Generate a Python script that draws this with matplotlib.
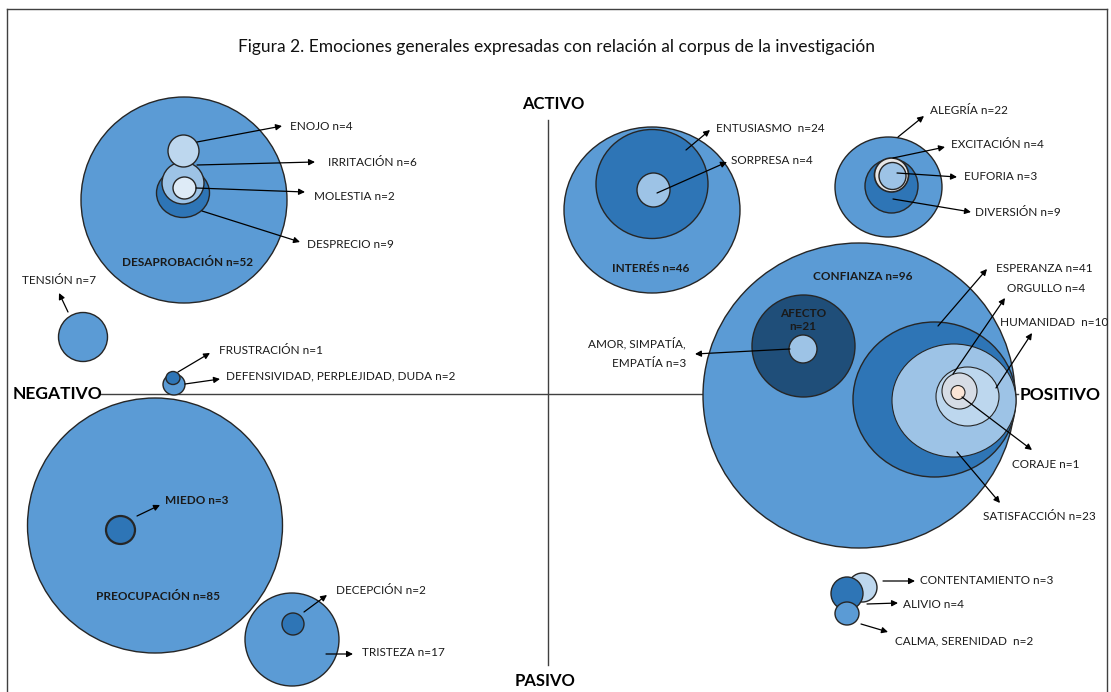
import matplotlib
matplotlib.use("Agg")
import matplotlib.pyplot as plt
from matplotlib.patches import Ellipse
from matplotlib.lines import Line2D

# ---------------- data ----------------
title = "Figura 2. Emociones generales expresadas con relación al corpus de la investigación"
axis_labels = ["ACTIVO", "PASIVO", "NEGATIVO", "POSITIVO"]

emotions = ["DESAPROBACIÓN", "ENOJO", "IRRITACIÓN", "DESPRECIO", "MOLESTIA",
            "TENSIÓN", "FRUSTRACIÓN", "DEFENSIVIDAD, PERPLEJIDAD, DUDA",
            "PREOCUPACIÓN", "MIEDO", "TRISTEZA", "DECEPCIÓN",
            "INTERÉS", "ENTUSIASMO", "SORPRESA",
            "ALEGRÍA", "DIVERSIÓN", "EXCITACIÓN", "EUFORIA",
            "CONFIANZA", "AFECTO", "AMOR, SIMPATÍA,\nEMPATÍA",
            "ESPERANZA", "SATISFACCIÓN", "HUMANIDAD", "ORGULLO", "CORAJE",
            "CONTENTAMIENTO", "ALIVIO", "CALMA, SERENIDAD"]
counts = [52, 4, 6, 9, 2,
          7, 1, 2,
          85, 3, 17, 2,
          46, 24, 4,
          22, 9, 4, 3,
          96, 21, 3,
          41, 23, 10, 4, 1,
          3, 4, 2]

# ---------------- layout (pixel coords) ----------------
# center x, center y, width, height, face colour, edge lw  (drawing order)
C1, C2, C3, C4, C5 = "#5b9bd5", "#2e75b6", "#9dc3e6", "#bdd7ee", "#deebf7"
shapes = {
    "DESAPROBACIÓN": (184, 200, 206, 206, C1, 1.0),
    "DESPRECIO": (183, 193, 53, 49, C2, 1.0),
    "IRRITACIÓN": (183, 183, 42, 42, C3, 1.0),
    "ENOJO": (183.5, 151, 31, 32, C4, 1.0),
    "MOLESTIA": (184.5, 188, 23, 22, C5, 1.0),
    "TENSIÓN": (83, 337, 49, 49, C1, 1.0),
    "DEFENSIVIDAD, PERPLEJIDAD, DUDA": (174, 384.5, 22, 21, C1, 1.0),
    "FRUSTRACIÓN": (173, 378, 14, 13, C2, 1.0),
    "PREOCUPACIÓN": (155, 525.5, 255, 255, C1, 1.0),
    "MIEDO": (120.5, 530, 29, 28, C2, 1.6),
    "TRISTEZA": (292, 639.5, 94, 93, C1, 1.0),
    "DECEPCIÓN": (293, 624, 22, 22, C2, 1.0),
    "INTERÉS": (652, 210, 176, 166, C1, 1.0),
    "ENTUSIASMO": (652, 184, 112, 109, C2, 1.0),
    "SORPRESA": (653.5, 190, 33, 34, C3, 1.0),
    "ALEGRÍA": (888.5, 187, 107, 100, C1, 1.0),
    "DIVERSIÓN": (891.5, 186, 53, 54, C2, 1.0),
    "EXCITACIÓN": (891.5, 175, 34, 34, "#e7e6e6", 1.2),
    "EUFORIA": (892.5, 176, 27, 27, C3, 1.0),
    "CONFIANZA": (859, 395.5, 312, 305, C1, 1.0),
    "AFECTO": (803.5, 346, 103, 102, "#1f4e79", 1.0),
    "AMOR, SIMPATÍA,\nEMPATÍA": (803, 349, 28, 28, C3, 1.0),
    "ESPERANZA": (934.5, 399.5, 163, 155, C2, 1.0),
    "SATISFACCIÓN": (954, 400.5, 124, 113, C3, 0.8),
    "HUMANIDAD": (967.5, 396.5, 63, 59, C4, 0.8),
    "ORGULLO": (959.5, 391, 35, 36, "#d6dce5", 0.8),
    "CORAJE": (958, 392.5, 14, 14, "#fbe5d6", 0.8),
    "CONTENTAMIENTO": (862.5, 587.5, 29, 29, C4, 1.0),
    "ALIVIO": (847, 593.5, 32, 33, C2, 1.0),
    "CALMA, SERENIDAD": (847, 613.5, 24, 23, C1, 1.0),
}

# arrows (tail x, tail y, head x, head y) and label anchors (x, y, ha, bold)
arrows = {
    "ENOJO": (197, 142, 282, 126), "IRRITACIÓN": (197, 165, 315, 162),
    "MOLESTIA": (196, 188, 305, 192), "DESPRECIO": (202, 211, 300, 242),
    "TENSIÓN": (68, 312, 59, 293), "FRUSTRACIÓN": (178, 372, 210, 353),
    "DEFENSIVIDAD, PERPLEJIDAD, DUDA": (185, 384, 220, 379),
    "MIEDO": (137, 516, 160, 505), "DECEPCIÓN": (304, 612, 327, 595),
    "TRISTEZA": (326, 654, 353, 654),
    "ENTUSIASMO": (686, 150, 710, 130), "SORPRESA": (657, 193, 727, 162),
    "ALEGRÍA": (898, 137, 924, 116), "EXCITACIÓN": (893, 158, 945, 147),
    "EUFORIA": (897, 173, 957, 177), "DIVERSIÓN": (893, 199, 971, 212),
    "AMOR, SIMPATÍA,\nEMPATÍA": (790, 349, 695, 354),
    "ESPERANZA": (938, 326, 987, 269), "ORGULLO": (953, 374, 1005, 298),
    "HUMANIDAD": (996, 388, 1032, 333), "CORAJE": (962, 397, 1032, 450),
    "SATISFACCIÓN": (957, 452, 1000, 503),
    "CONTENTAMIENTO": (883, 581, 915, 581), "ALIVIO": (867, 604, 898, 603),
    "CALMA, SERENIDAD": (861, 624, 888, 632),
}
labels = {
    "DESAPROBACIÓN": (188, 263, "center", True), "ENOJO": (290, 126, "left", False),
    "IRRITACIÓN": (328, 162, "left", False), "MOLESTIA": (314, 196, "left", False),
    "DESPRECIO": (307, 245, "left", False), "TENSIÓN": (59, 281, "center", False),
    "FRUSTRACIÓN": (219, 350, "left", False),
    "DEFENSIVIDAD, PERPLEJIDAD, DUDA": (226, 376, "left", False),
    "PREOCUPACIÓN": (158, 597, "center", True), "MIEDO": (165, 501, "left", True),
    "DECEPCIÓN": (336, 590, "left", False), "TRISTEZA": (362, 653, "left", False),
    "INTERÉS": (651, 269, "center", True), "ENTUSIASMO": (716, 129, "left", False),
    "SORPRESA": (731, 160, "left", False), "ALEGRÍA": (930, 110, "left", False),
    "EXCITACIÓN": (951, 145, "left", False), "EUFORIA": (964, 177, "left", False),
    "DIVERSIÓN": (975, 213, "left", False), "CONFIANZA": (863, 276, "center", True),
    "AFECTO": (803, 320, "center", True),
    "AMOR, SIMPATÍA,\nEMPATÍA": (686, 353, "right", False),
    "ESPERANZA": (996, 268, "left", False), "ORGULLO": (1007, 289, "left", False),
    "HUMANIDAD": (1000, 322, "left", False), "CORAJE": (1012, 464, "left", False),
    "SATISFACCIÓN": (983, 517, "left", False),
    "CONTENTAMIENTO": (920, 581, "left", False), "ALIVIO": (903, 605, "left", False),
    "CALMA, SERENIDAD": (895, 641, "left", False),
}
separators = {"ENTUSIASMO": "  ", "HUMANIDAD": "  ", "CALMA, SERENIDAD": "  ",
              "AFECTO": "\n"}

W, H = 1111, 692
fig = plt.figure(figsize=(W / 100, H / 100), dpi=100)
ax = fig.add_axes([0, 0, 1, 1])
ax.set_xlim(0, W)
ax.set_ylim(H, 0)
ax.axis("off")

FONT = "Lato"
EDGE = "#262626"

# frame
for xs, ys in [((7, 7), (9, 700)), ((7, 1107), (9, 9)), ((1107, 1107), (9, 700))]:
    ax.add_line(Line2D(xs, ys, color="#404040", lw=1.0, zorder=1))

ax.text(556, 47, title, ha="center", va="center", fontsize=12.5,
        family="Lato", color="#111111")

# axes lines
ax.add_line(Line2D([100, 1018], [394, 394], color="#404040", lw=1.0, zorder=1))
ax.add_line(Line2D([548, 548], [120, 665], color="#404040", lw=1.0, zorder=1))
ax.text(553, 104, axis_labels[0], ha="center", va="center", fontsize=12,
        fontweight="bold", family=FONT)
ax.text(545, 681, axis_labels[1], ha="center", va="center", fontsize=12,
        fontweight="bold", family=FONT)
ax.text(57, 394, axis_labels[2], ha="center", va="center", fontsize=12.5,
        fontweight="bold", family=FONT)
ax.text(1060, 395, axis_labels[3], ha="center", va="center", fontsize=12.5,
        fontweight="bold", family=FONT)

# circles in drawing order (outer before inner)
for i, (name, (cx, cy, w, h, fc, lw)) in enumerate(shapes.items()):
    ax.add_patch(Ellipse((cx, cy), w, h, facecolor=fc, edgecolor=EDGE,
                         lw=lw, zorder=2 + i * 0.01))

for name, n in zip(emotions, counts):
    if name in arrows:
        x0, y0, x1, y1 = arrows[name]
        ax.annotate("", xy=(x1, y1), xytext=(x0, y0), zorder=5,
                    arrowprops=dict(arrowstyle="-|>", color="black", lw=0.9,
                                    mutation_scale=9, shrinkA=0, shrinkB=0))
    lx, ly, ha, bold = labels[name]
    sep = separators.get(name, " ")
    txt = f"{name}{sep}n={n}"
    ax.text(lx, ly, txt, ha=ha, va="center", fontsize=8.5, family=FONT,
            fontweight="bold" if bold else "normal", color="#1a1a1a",
            linespacing=1.9 if ha == "right" else 1.3, zorder=6,
            multialignment=ha)

fig.savefig("out.png", dpi=100)
